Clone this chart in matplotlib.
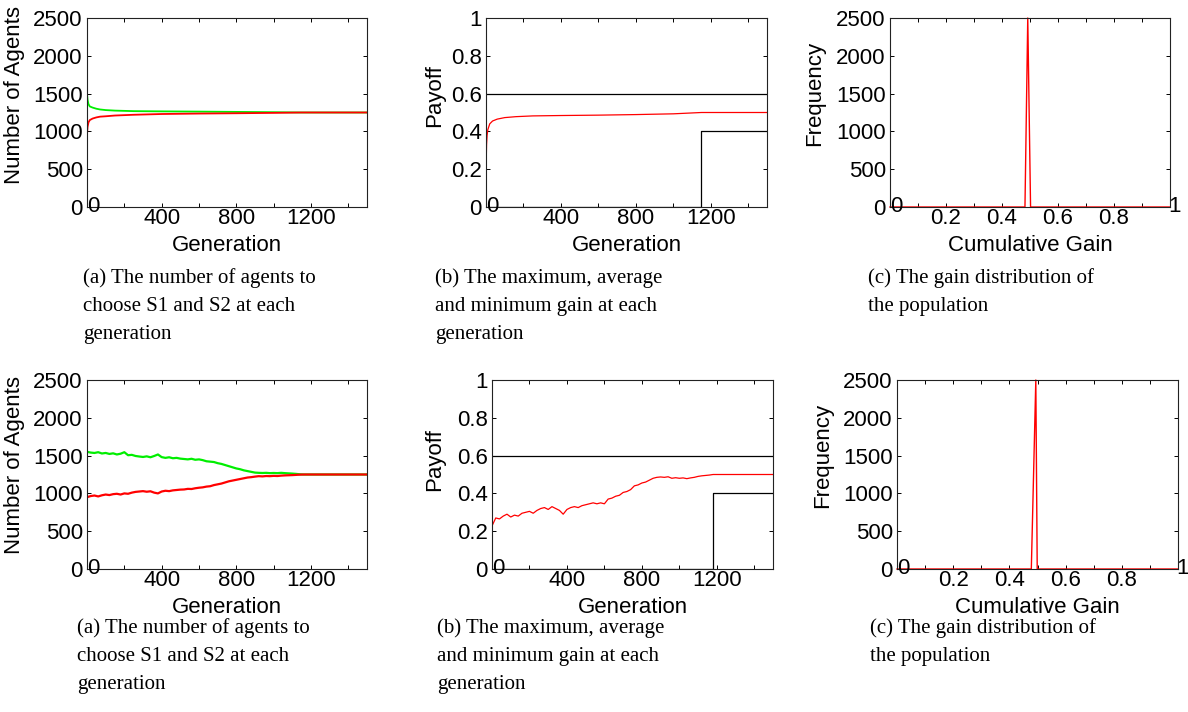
import matplotlib
matplotlib.use("Agg")
import matplotlib.pyplot as plt
import numpy as np

# === Данные: верхний ряд ===
gen_top = [0, 3, 8, 15, 30, 50, 70, 100, 150, 250, 400, 600, 800, 1000, 1150, 1500]
s2_top = [1500, 1420, 1360, 1330, 1315, 1300, 1290, 1282, 1275, 1268, 1265, 1262, 1258, 1254, 1250, 1250]
s1_top = [960, 1060, 1120, 1150, 1170, 1185, 1195, 1200, 1210, 1220, 1230, 1236, 1240, 1245, 1250, 1250]

gen_pay_top = [0, 1, 3, 6, 10, 20, 35, 60, 100, 160, 250, 400, 600, 800, 1000, 1150, 1500]
avg_top = [0.47, 0.23, 0.33, 0.38, 0.41, 0.44, 0.455, 0.465, 0.473, 0.478, 0.482, 0.484,
           0.486, 0.489, 0.493, 0.5, 0.5]
max_gen_top = [0, 1500]
max_top = [0.6, 0.6]
min_gen_top = [0, 1150, 1150, 1500]
min_top = [0, 0, 0.4, 0.4]

gain_top = [0, 0.482, 0.492, 0.502, 1]
freq_top = [0, 0, 2500, 0, 0]

# === Данные: нижний ряд ===
gen_bot = list(range(0, 1161, 20)) + [1500]
s2_bot = [1550, 1540, 1535, 1545, 1528, 1535, 1522, 1530, 1515, 1525, 1545, 1505, 1510, 1495,
          1488, 1482, 1490, 1478, 1495, 1515, 1480, 1470, 1478, 1465, 1470, 1460, 1455, 1450,
          1458, 1445, 1450, 1440, 1425, 1420, 1415, 1400, 1390, 1375, 1360, 1345, 1330, 1320,
          1305, 1295, 1285, 1275, 1272, 1270, 1272, 1268, 1270, 1268, 1272, 1268, 1265, 1262,
          1258, 1253, 1250, 1250]
s1_bot = [950, 965, 972, 960, 975, 985, 978, 990, 995, 985, 1000, 995, 1010, 1020, 1025, 1030,
          1022, 1028, 1010, 1000, 1025, 1035, 1030, 1040, 1045, 1050, 1052, 1060, 1058, 1068,
          1075, 1080, 1090, 1095, 1110, 1120, 1130, 1145, 1160, 1170, 1180, 1190, 1200, 1210,
          1215, 1222, 1228, 1225, 1230, 1228, 1232, 1230, 1235, 1238, 1240, 1242, 1245, 1248,
          1250, 1250]

gen_pay_bot = [0, 1] + list(range(20, 1181, 20)) + [1500]
avg_bot = [0.5, 0.23, 0.27, 0.265, 0.28, 0.29, 0.275, 0.285, 0.28, 0.295, 0.30, 0.305, 0.295,
           0.31, 0.32, 0.325, 0.315, 0.33, 0.32, 0.31, 0.29, 0.315, 0.325, 0.33, 0.325, 0.335,
           0.34, 0.345, 0.35, 0.345, 0.35, 0.345, 0.37, 0.375, 0.385, 0.39, 0.405, 0.41, 0.42,
           0.44, 0.445, 0.455, 0.46, 0.47, 0.48, 0.485, 0.487, 0.485, 0.488, 0.48, 0.483, 0.48,
           0.482, 0.478, 0.482, 0.485, 0.49, 0.493, 0.495, 0.497, 0.5, 0.5]
max_gen_bot = [0, 1500]
max_bot = [0.6, 0.6]
min_gen_bot = [0, 1180, 1180, 1500]
min_bot = [0, 0, 0.4, 0.4]

gain_bot = [0, 0.478, 0.494, 0.499, 1]
freq_bot = [0, 0, 2500, 0, 0]

captions_a = ["(a) The number of agents to", "choose S1 and S2 at each", "generation"]
captions_b = ["(b) The maximum, average", "and minimum gain at each", "generation"]
captions_c = ["(c) The gain distribution of", "the population"]

GREEN = "#00ee00"
RED = "#ff0000"
SANS = ["Liberation Sans", "DejaVu Sans"]
SERIF = ["Liberation Serif", "DejaVu Serif"]
FS = 16

W, H = 1188, 712
fig = plt.figure(figsize=(W / 100, H / 100), dpi=100)


def make_axes(l, t, r, b):
    return fig.add_axes([l / W, 1 - b / H, (r - l) / W, (b - t) / H])


def style(ax, ylabel_x, ylabel_y):
    for s in ax.spines.values():
        s.set_linewidth(0.8)
        s.set_color("#222222")
    ax.tick_params(direction="in", length=3, width=0.7, top=True, right=True,
                   labelsize=FS)
    ax.tick_params(axis="x", pad=1)
    ax.tick_params(axis="y", pad=3)
    for lab in ax.get_xticklabels() + ax.get_yticklabels():
        lab.set_family(SANS)
    # ylabel: координата = правый край подписи
    ax.yaxis.set_label_coords(ylabel_x, ylabel_y)
    ax.xaxis.set_label_coords(0.5, -0.15)


def gen_axis(ax):
    ax.set_xlim(0, 1500)
    ax.set_xticks(range(0, 1501, 200))
    ax.set_xticklabels(["", "", "400", "", "800", "", "1200", ""])
    ax.text(0, 0, "0", ha="left", va="center", fontsize=FS, family=SANS,
            transform=ax.get_xaxis_transform(), clip_on=False)
    ax.set_xlabel("Generation", fontsize=FS, family=SANS)


def gain_axis(ax):
    ax.set_xlim(0, 1)
    ax.set_xticks(np.arange(0, 1.01, 0.1))
    ax.set_xticklabels(["", "", "0.2", "", "0.4", "", "0.6", "", "0.8", "", ""])
    tr = ax.get_xaxis_transform()
    ax.text(0, 0, "0", ha="left", va="center", fontsize=FS, family=SANS,
            transform=tr, clip_on=False)
    ax.text(0.995, 0, "1", ha="left", va="center", fontsize=FS, family=SANS,
            transform=tr, clip_on=False)
    ax.set_xlabel("Cumulative Gain", fontsize=FS, family=SANS)


def agents_panel(ax, gens, s1, s2, lw, ylab_y):
    ax.plot(gens, s2, color=GREEN, lw=lw)
    ax.plot(gens, s1, color=RED, lw=lw)
    ax.set_ylim(0, 2500)
    ax.set_yticks(range(0, 2501, 500))
    ax.set_ylabel("Number of Agents", fontsize=FS, family=SANS)
    gen_axis(ax)
    style(ax, -0.221, ylab_y)


def payoff_panel(ax, gens, avg, mxg, mx, mng, mn, ylab_x, ylab_y):
    ax.plot(mxg, mx, color="k", lw=0.9)
    ax.plot(mng, mn, color="k", lw=0.9)
    ax.plot(gens, avg, color=RED, lw=0.9)
    ax.set_ylim(0, 1)
    ax.set_yticks([0, 0.2, 0.4, 0.6, 0.8, 1])
    ax.set_yticklabels(["0", "0.2", "0.4", "0.6", "0.8", "1"])
    ax.set_ylabel("Payoff", fontsize=FS, family=SANS)
    gen_axis(ax)
    style(ax, ylab_x, ylab_y)


def hist_panel(ax, gain, freq, ylab_x, ylab_y):
    ax.plot(gain, freq, color=RED, lw=1.0, clip_on=False)
    ax.set_ylim(0, 2500)
    ax.set_yticks(range(0, 2501, 500))
    ax.set_ylabel("Frequency", fontsize=FS, family=SANS)
    gain_axis(ax)
    style(ax, ylab_x, ylab_y)


# === Верхний ряд ===
agents_panel(make_axes(87, 18, 367, 207), gen_top, s1_top, s2_top, 1.3, 0.59)
payoff_panel(make_axes(486, 18, 767, 207), gen_pay_top, avg_top, max_gen_top, max_top,
             min_gen_top, min_top, -0.146, 0.59)
hist_panel(make_axes(890, 18, 1170, 207), gain_top, freq_top, -0.232, 0.6)

# === Нижний ряд ===
agents_panel(make_axes(87, 380, 367, 569), gen_bot, s1_bot, s2_bot, 1.6, 0.55)
payoff_panel(make_axes(492, 380, 773, 569), gen_pay_bot, avg_bot, max_gen_bot, max_bot,
             min_gen_bot, min_bot, -0.167, 0.58)
hist_panel(make_axes(897, 380, 1178, 569), gain_bot, freq_bot, -0.228, 0.6)


# === Подписи ===
def caption(x, y0, lines):
    for i, line in enumerate(lines):
        fig.text(x / W, 1 - (y0 + 28.5 * i) / H, line, ha="left", va="center",
                 fontsize=15, family=SERIF)


caption(83, 278, captions_a)
caption(435, 278, captions_b)
caption(868, 278, captions_c)
caption(77, 628, captions_a)
caption(437, 628, captions_b)
caption(870, 628, captions_c)

fig.savefig("out.png", dpi=100)
